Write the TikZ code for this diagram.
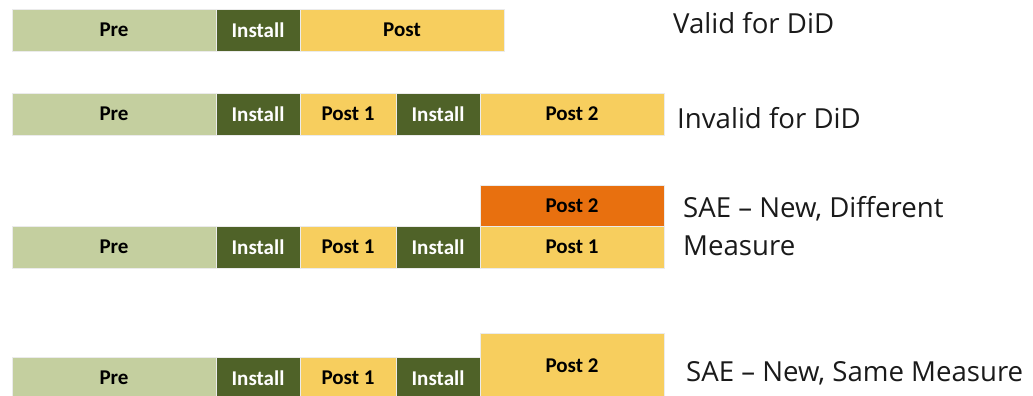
\documentclass[tikz,border=0pt]{standalone}
\usepackage{fontspec}
\newfontfamily\lblfont{Carlito}
\newfontfamily\rtfont{Open Sans}
\definecolor{preC}{HTML}{C4CF9F}
\definecolor{instC}{HTML}{4F6228}
\definecolor{postC}{HTML}{F7CE5E}
\definecolor{orC}{HTML}{E8700F}
\definecolor{txtC}{HTML}{1A1A1A}
\tikzset{
  cell/.style={draw=white!92!black, line width=0.5pt, inner sep=0pt, minimum height=42pt,
    font=\lblfont\bfseries\fontsize{21}{23}\selectfont},
  pre/.style={cell, fill=preC, text=black, minimum width=204pt},
  inst/.style={cell, fill=instC, text=white, minimum width=84pt},
  post/.style={cell, fill=postC, text=black},
  orange/.style={cell, fill=orC, text=black},
  side/.style={anchor=base west, inner sep=0pt, text=txtC, font=\rtfont\fontsize{27.6}{31}\selectfont}
}
\begin{document}
\begin{tikzpicture}[x=1pt,y=-1pt]
\useasboundingbox (0,0) rectangle (1033,396);
% row 1
\node[pre]  (r1pre)  at (114,30) {Pre};
\node[inst] (r1ins)  at (258,30) {Install};
\node[post, minimum width=204pt] (r1post) at (402,30) {Post};
% row 2
\node[pre]  (r2pre)  at (114,114) {Pre};
\node[inst] (r2ins)  at (258,114) {Install};
\node[post, minimum width=96pt] (r2p1) at (348,114) {Post 1};
\node[inst] (r2ins2) at (438,114) {Install};
\node[post, minimum width=184pt] (r2p2) at (572,114) {Post 2};
% row 3
\node[pre]  (r3pre)  at (114,247) {Pre};
\node[inst] (r3ins)  at (258,247) {Install};
\node[post, minimum width=96pt] (r3p1) at (348,247) {Post 1};
\node[inst] (r3ins2) at (438,247) {Install};
\node[post, minimum width=184pt] (r3p1b) at (572,247) {Post 1};
\node[orange, minimum width=184pt, minimum height=41pt] (r3p2) at (572,205.5) {Post 2};
% row 4
\node[pre]  (r4pre)  at (114,378) {Pre};
\node[inst] (r4ins)  at (258,378) {Install};
\node[post, minimum width=96pt] (r4p1) at (348,378) {Post 1};
\node[inst] (r4ins2) at (438,378) {Install};
\node[post, minimum width=184pt, minimum height=66pt] (r4p2) at (572,366) {Post 2};
% side labels
\node[side] (t1) at (673,34) {Valid for DiD};
\node[side] (t2) at (677,128) {Invalid for DiD};
\node[side] (t3) at (683,217) {SAE – New, Different};
\node[side] (t3b) at (683,255) {Measure};
\node[side] (t4) at (686,381) {SAE – New, Same Measure};
\end{tikzpicture}
\end{document}
